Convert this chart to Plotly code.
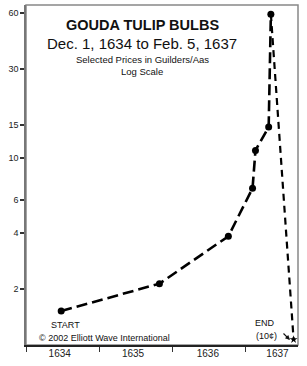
import plotly.graph_objects as go

# Data (x in fractional years, y in guilders)
rise_years = [1634.48, 1635.82, 1636.76, 1637.09, 1637.13, 1637.31, 1637.34]
rise_prices = [1.52, 2.13, 3.82, 6.9, 11.0, 14.7, 59.0]
fall_years = [1637.34, 1637.65]
fall_prices = [59.0, 1.07]
year_ticks = [1634, 1635, 1636, 1637]
year_labels = ["1634", "1635", "1636", "1637"]
year_label_offsets = [0.46, 0.46, 0.48, 0.43]
price_ticks = [2, 4, 6, 10, 15, 30, 60]
price_labels = ["2", "4", "6", "10", "15", "30", "60"]

W, H = 307, 366
L, R, T, B = 26, 9, 5, 21
pw, ph = W - L - R, H - T - B

def px(x):
    return (x - L) / pw

def py(y):
    return (H - B - y) / ph

fig = go.Figure()
fig.add_trace(go.Scatter(
    x=rise_years, y=rise_prices, mode="lines+markers",
    line=dict(color="black", width=2.6, dash="11px,5px"),
    marker=dict(color="black", size=7, symbol="circle"),
    hoverinfo="skip", showlegend=False))
fig.add_trace(go.Scatter(
    x=fall_years, y=fall_prices, mode="lines",
    line=dict(color="black", width=2.2, dash="7px,5px"),
    hoverinfo="skip", showlegend=False))
fig.add_trace(go.Scatter(
    x=fall_years[-1:], y=fall_prices[-1:], mode="markers",
    marker=dict(color="black", size=6, symbol="star"),
    hoverinfo="skip", showlegend=False))

font = "Arial, Liberation Sans, sans-serif"
xrange = [1634.0, 1637.71]

fig.update_layout(
    width=W, height=H,
    margin=dict(l=L, r=R, t=T, b=B, pad=0),
    paper_bgcolor="white", plot_bgcolor="white",
    font=dict(family=font, color="black"),
    xaxis=dict(
        range=xrange, tickvals=year_ticks, showticklabels=False,
        ticks="outside", ticklen=5, tickcolor="#333", tickwidth=1,
        showline=True, linecolor="#222", linewidth=1.5,
        showgrid=False, zeroline=False),
    xaxis2=dict(
        range=xrange, overlaying="x", side="bottom", anchor="y",
        tickvals=[y + o for y, o in zip(year_ticks, year_label_offsets)],
        ticktext=year_labels, ticks="", ticklabelstandoff=1,
        showline=False, showgrid=False, zeroline=False,
        tickfont=dict(family=font, size=10, color="#222")),
    yaxis=dict(
        type="log", range=[0, 1.82], tickvals=price_ticks, ticktext=price_labels,
        ticks="outside", ticklen=4, tickcolor="#333", tickwidth=1.5,
        showline=True, linecolor="#777", linewidth=1.5,
        showgrid=False, zeroline=False,
        tickfont=dict(family=font, size=9, color="#222")),
    shapes=[dict(type="rect", xref="paper", yref="paper", x0=0, y0=0, x1=1, y1=1,
                 line=dict(color="#888", width=1.5), layer="below")],
)
# invisible trace to activate xaxis2
fig.add_trace(go.Scatter(x=[xrange[0]], y=[1.0], xaxis="x2", mode="markers",
                         marker=dict(opacity=0), hoverinfo="skip", showlegend=False))

ann = [
    dict(text="<b>GOUDA TULIP BULBS</b>", x=px(142), y=py(25), size=14.5),
    dict(text="Dec. 1, 1634 to Feb. 5, 1637", x=px(142), y=py(43), size=15),
    dict(text="Selected Prices in Guilders/Aas", x=px(142), y=py(60), size=9.5),
    dict(text="Log Scale", x=px(142), y=py(72), size=9.5),
    dict(text="START", x=px(65), y=py(325), size=9),
    dict(text="© 2002 Elliott Wave International", x=px(104), y=py(338), size=9),
    dict(text="END", x=px(265), y=py(323), size=9),
    dict(text="(10¢)", x=px(266), y=py(336), size=9),
]
for a in ann:
    fig.add_annotation(text=a["text"], x=a["x"], y=a["y"], xref="paper", yref="paper",
                       xanchor="center", yanchor="middle", showarrow=False,
                       font=dict(size=a["size"], family=font, color="#111"))

fig.add_annotation(x=px(290), y=py(340), xref="paper", yref="paper", text="",
                   showarrow=True, ax=-8, ay=-8, arrowhead=2, arrowsize=0.8,
                   arrowwidth=1.2, arrowcolor="#111")

fig.write_html("out.html")
